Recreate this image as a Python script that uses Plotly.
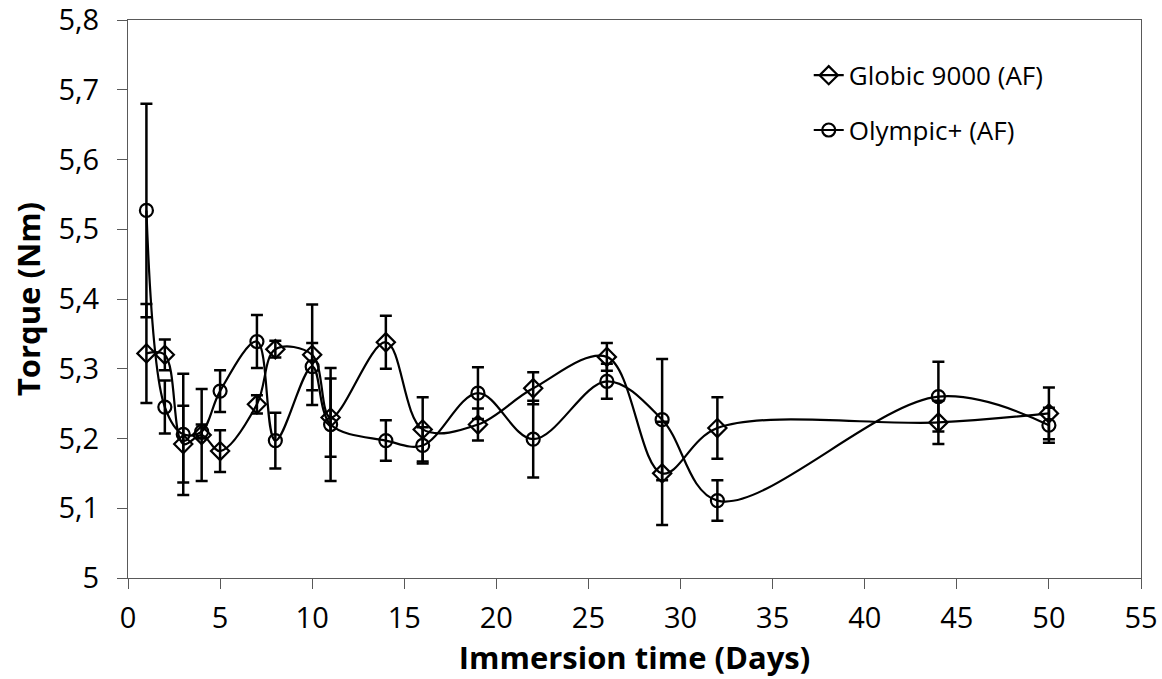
import plotly.graph_objects as go

days = [1, 2, 3, 4, 5, 7, 8, 10, 11, 14, 16, 19, 22, 26, 29, 32, 44, 50]
globic = [5.322, 5.320, 5.192, 5.205, 5.182, 5.249, 5.328, 5.320, 5.230, 5.338,
          5.213, 5.220, 5.272, 5.317, 5.150, 5.215, 5.223, 5.236]
globic_err = [0.071, 0.022, 0.055, 0.066, 0.030, 0.013, 0.012, 0.072, 0.056, 0.038,
              0.046, 0.023, 0.023, 0.020, 0.074, 0.044, 0.031, 0.037]
olympic = [5.527, 5.245, 5.206, 5.210, 5.268, 5.339, 5.197, 5.303, 5.220, 5.197,
           5.190, 5.265, 5.199, 5.282, 5.227, 5.111, 5.260, 5.219]
olympic_err = [0.153, 0.038, 0.087, 0.010, 0.030, 0.038, 0.040, 0.034, 0.081, 0.029,
               0.026, 0.037, 0.055, 0.025, 0.087, 0.029, 0.050, 0.025]

y_ticks = [5.0, 5.1, 5.2, 5.3, 5.4, 5.5, 5.6, 5.7, 5.8]
y_labels = ["5", "5,1", "5,2", "5,3", "5,4", "5,5", "5,6", "5,7", "5,8"]
x_ticks = list(range(0, 56, 5))

FONT = "'Open Sans', sans-serif"

fig = go.Figure()
fig.add_trace(go.Scatter(
    x=days, y=globic, name="Globic 9000 (AF)", mode="lines+markers", legendgroup="g1",
    line=dict(color="black", width=2.2, shape="spline", smoothing=1.0),
    marker=dict(symbol="diamond-open", size=14, color="black", line=dict(width=2.2, color="black")),
    error_y=dict(type="data", array=globic_err, visible=True, color="black", thickness=2.5, width=6),
))
fig.add_trace(go.Scatter(
    x=days, y=olympic, name="Olympic+ (AF)", mode="lines+markers", legendgroup="g2",
    line=dict(color="black", width=2.2, shape="spline", smoothing=1.0),
    marker=dict(symbol="circle-open", size=13, color="black", line=dict(width=2.2, color="black")),
    error_y=dict(type="data", array=olympic_err, visible=True, color="black", thickness=2.5, width=6),
))

axis_color = "#595959"
fig.update_layout(
    width=1162, height=679,
    margin=dict(l=128, r=21, t=20, b=101, autoexpand=False),
    paper_bgcolor="white", plot_bgcolor="white",
    font=dict(family=FONT, size=28, color="black"),
    showlegend=True,
    legend=dict(x=0.672, y=0.943, xanchor="left", yanchor="top",
                bgcolor="rgba(0,0,0,0)", font=dict(size=26),
                traceorder="grouped", tracegroupgap=18, itemwidth=30),
    xaxis=dict(range=[0, 55], tickvals=x_ticks, automargin=False,
               showgrid=False, zeroline=False, showline=True, mirror=True,
               linecolor=axis_color, linewidth=1.3,
               ticks="outside", ticklen=10, tickcolor=axis_color, tickwidth=1.3,
               tickfont=dict(size=29), ticklabelstandoff=4, ticklabeloverflow="allow",
               title=dict(text="<b>Immersion time (Days)</b>", font=dict(size=31), standoff=6)),
    yaxis=dict(range=[5.0, 5.8], tickvals=y_ticks, ticktext=y_labels, automargin=False,
               showgrid=False, zeroline=False, showline=True, mirror=True,
               linecolor=axis_color, linewidth=1.3,
               ticks="outside", ticklen=10, tickcolor=axis_color, tickwidth=1.3,
               tickfont=dict(size=29), ticklabelstandoff=12, ticklabeloverflow="allow",
               title=dict(text="<b>Torque (Nm)</b>", font=dict(size=31), standoff=8)),
)

fig.write_html("out.html")
